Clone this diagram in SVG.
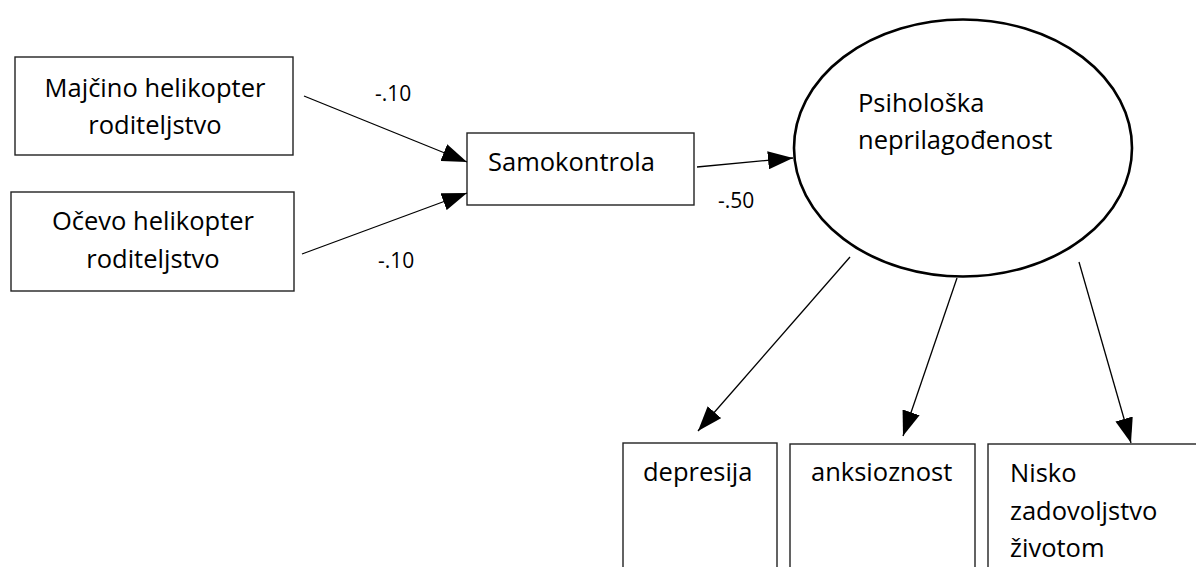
<svg xmlns="http://www.w3.org/2000/svg" width="1196" height="567" viewBox="0 0 1196 567">
<style>
.box{fill:#fff;stroke:#222;stroke-width:1.4}
.t{font-family:"Open Sans","Noto Sans",sans-serif;font-size:25.5px;fill:#000}
.lbl{font-family:"Open Sans","Noto Sans",sans-serif;font-size:21px;fill:#000}
.c{stroke:#000;stroke-width:1.3;fill:none;marker-end:url(#ah)}
</style>
<defs>
<marker id="ah" markerUnits="userSpaceOnUse" markerWidth="26" markerHeight="18" viewBox="0 0 26 18" refX="25" refY="9" orient="auto">
<path d="M0,0 L25,9 L0,18 z" fill="#000"/>
</marker>
</defs>
<rect width="1196" height="567" fill="#fff"/>
<g id="n-majcino">
<rect class="box" x="15" y="57" width="278" height="98"/>
<text class="t" x="155" y="97" text-anchor="middle">Majčino helikopter</text>
<text class="t" x="155" y="134" text-anchor="middle">roditeljstvo</text>
</g>
<g id="n-ocevo">
<rect class="box" x="11" y="192" width="283" height="99"/>
<text class="t" x="153" y="230" text-anchor="middle">Očevo helikopter</text>
<text class="t" x="153" y="268" text-anchor="middle">roditeljstvo</text>
</g>
<g id="n-samokontrola">
<rect class="box" x="467" y="133" width="227" height="72"/>
<text class="t" x="488" y="171">Samokontrola</text>
</g>
<g id="n-psiholoska">
<ellipse cx="963" cy="148" rx="169" ry="128.5" fill="#fff" stroke="#000" stroke-width="2.6"/>
<text class="t" x="858" y="112">Psihološka</text>
<text class="t" x="858" y="149">neprilagođenost</text>
</g>
<g id="n-depresija">
<rect class="box" x="623" y="443" width="154" height="140"/>
<text class="t" x="643" y="481">depresija</text>
</g>
<g id="n-anksioznost">
<rect class="box" x="790" y="444" width="185" height="140"/>
<text class="t" x="811" y="481">anksioznost</text>
</g>
<g id="n-nisko">
<rect class="box" x="988" y="444" width="230" height="140"/>
<text class="t" x="1010" y="482">Nisko</text>
<text class="t" x="1010" y="520">zadovoljstvo</text>
<text class="t" x="1010" y="557">životom</text>
</g>
<g id="connectors">
<line class="c" x1="304" y1="96" x2="467" y2="162"/>
<line class="c" x1="302" y1="254" x2="467" y2="193"/>
<line class="c" x1="697" y1="167" x2="793" y2="158"/>
<line class="c" x1="850" y1="257" x2="698" y2="431"/>
<line class="c" x1="957" y1="278" x2="903" y2="436"/>
<line class="c" x1="1079" y1="262" x2="1131" y2="443"/>
<text class="lbl" x="375" y="101">-.10</text>
<text class="lbl" x="378" y="268">-.10</text>
<text class="lbl" x="718" y="208">-.50</text>
</g>
</svg>
